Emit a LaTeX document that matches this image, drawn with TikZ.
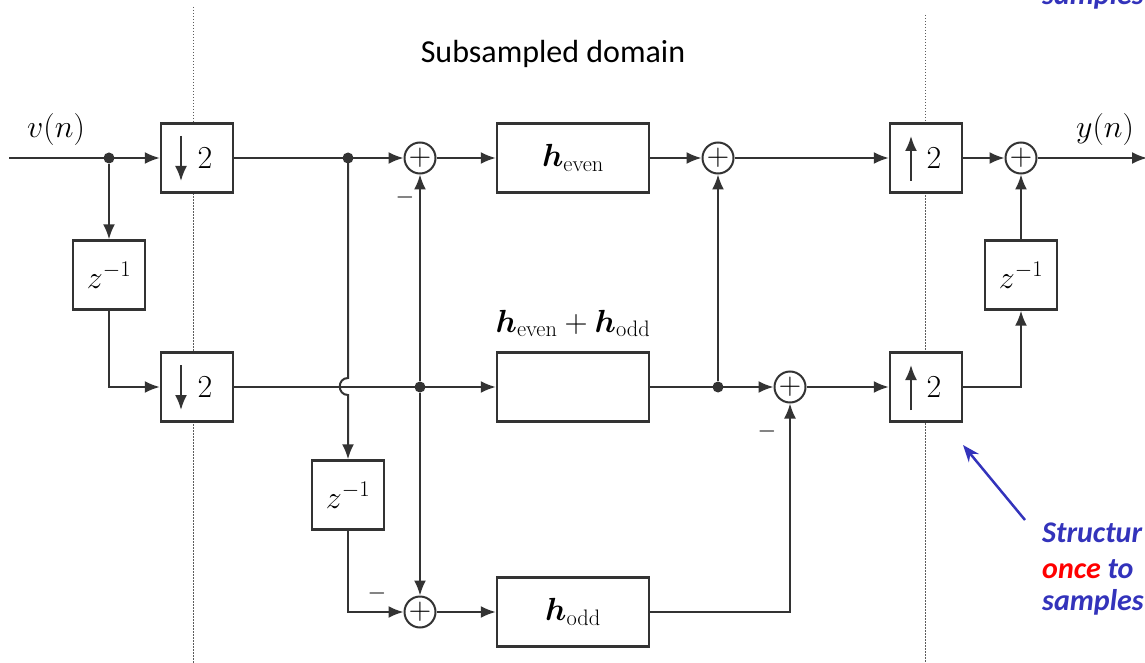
\RequirePackage{fix-cm}
\documentclass[tikz,border=0pt]{standalone}
\usepackage{fontspec}
\usepackage{amsmath}
\usepackage{bm}
\usetikzlibrary{arrows.meta,calc}
\newfontfamily\carl{Carlito}
\definecolor{ink}{HTML}{333333}
\definecolor{annblue}{HTML}{3333BB}
\begin{document}
\begin{tikzpicture}[x=1pt,y=-1pt,
  every node/.style={font=\fontsize{32}{38}\selectfont},
  blk/.style={draw=ink,line width=2.4pt,fill=white,inner sep=0pt,minimum width=72pt,minimum height=69pt},
  filt/.style={blk,minimum width=152pt},
  sumnode/.style={draw=ink,line width=2pt,fill=white,circle,minimum size=31pt,inner sep=0pt,font=\fontsize{31}{34}\selectfont},
  dotnode/.style={circle,fill=ink,inner sep=0pt,minimum size=11pt},
  conn/.style={draw=ink,line width=2pt},
  arr/.style={conn,-{Latex[length=15pt,width=12pt]}},
  sepline/.style={draw=ink!80,line width=1pt,dash pattern=on 1.5pt off 1.5pt},
  minus/.style={font=\fontsize{24}{28}\selectfont,inner sep=0pt},
  ann/.style={font=\carl\bfseries\itshape\fontsize{30}{36}\selectfont,text=annblue,anchor=base west,inner sep=0pt}]
\useasboundingbox (0,0) rectangle (1145,663);
\clip (0,0) rectangle (1145,663);

% domain separators
\draw[sepline] (193,7) -- (193,663);
\draw[sepline] (925,15) -- (925,663);

\node[font=\carl\fontsize{32}{38}\selectfont] (title) at (553,54) {Subsampled domain};

% nodes
\coordinate (in) at (9,158);
\node[dotnode] (j1) at (109,158) {};
\node[blk] (d1) at (197,158) {\hspace*{16pt}$2$};
\node[blk] (z1) at (109,275) {$z^{-1}$};
\node[blk] (d2) at (197,387) {\hspace*{16pt}$2$};
\node[dotnode] (j2) at (348,158) {};
\node[sumnode] (a1) at (420,158) {$+$};
\node[filt] (he) at (573,158) {$\bm{h}_{\text{even}}$};
\node[sumnode] (a2) at (718,158) {$+$};
\node[blk] (u1) at (926,158) {\hspace*{16pt}$2$};
\node[sumnode] (a4) at (1021,158) {$+$};
\coordinate (out) at (1147,158);
\node[blk] (z3) at (1021,275) {$z^{-1}$};
\node[blk] (u2) at (926,387) {\hspace*{16pt}$2$};
\node[dotnode] (j3) at (420,387) {};
\node[filt] (hm) at (573,387) {};
\node[anchor=base] (lbl) at (573,332) {$\bm{h}_{\text{even}}+\bm{h}_{\text{odd}}$};
\node[dotnode] (j4) at (718,387) {};
\node[sumnode] (a5) at (790,387) {$+$};
\node[blk] (z2) at (348,495) {$z^{-1}$};
\node[sumnode] (a3) at (420,612) {$+$};
\node[filt] (ho) at (573,612) {$\bm{h}_{\text{odd}}$};
\node[anchor=base] (vin) at (56,138) {$v(n)$};
\node[anchor=base] (yout) at (1105,138) {$y(n)$};

% sampler arrows
\draw[arr] ($(d1.center)+(-16,-22)$) -- ($(d1.center)+(-16,23)$);
\draw[arr] ($(d2.center)+(-16,-22)$) -- ($(d2.center)+(-16,23)$);
\draw[arr] ($(u1.center)+(-15,23)$) -- ($(u1.center)+(-15,-22)$);
\draw[arr] ($(u2.center)+(-15,23)$) -- ($(u2.center)+(-15,-22)$);

% minus signs
\node[minus] (m1) at (405,198) {$-$};
\node[minus] (m2) at (377,593) {$-$};
\node[minus] (m3) at (767,431) {$-$};

% connectors
\coordinate (jt) at (348,378);
\coordinate (jb) at (348,395);
\draw[arr] (in) -- (d1);
\draw[arr] (j1) -- (z1);
\draw[arr] (z1) |- (d2);
\draw[arr] (d1) -- (a1);
\draw[arr] (j2.center) -- (jt) .. controls (337,378) and (337,395) .. (jb) -- (z2);
\draw[arr] (d2) -- (hm);
\draw[arr] (j3) -- (a1);
\draw[arr] (j3) -- (a3);
\draw[arr] (z2) |- (a3);
\draw[arr] (a1) -- (he);
\draw[arr] (he) -- (a2);
\draw[arr] (a2) -- (u1);
\draw[arr] (u1) -- (a4);
\draw[arr] (a4) -- (out);
\draw[arr] (hm) -- (a5);
\draw[arr] (j4) -- (a2);
\draw[arr] (a3) -- (ho);
\draw[arr] (ho) -| (a5);
\draw[arr] (a5) -- (u2);
\draw[arr] (u2) -| (z3);
\draw[arr] (z3) -- (a4);

% annotation
\coordinate (annfrom) at (1025,520);
\coordinate (anntip) at (963,445);
\draw[annblue,line width=2.5pt,-{Stealth[length=17pt,width=13pt]}] (annfrom) -- (anntip);
\node[ann] (t0) at (1042,5) {samples};
\node[ann] (t1) at (1042,542) {Structur};
\node[ann] (t2) at (1042,578) {\textcolor{red}{once} to};
\node[ann] (t3) at (1042,610) {samples};
\end{tikzpicture}
\end{document}
